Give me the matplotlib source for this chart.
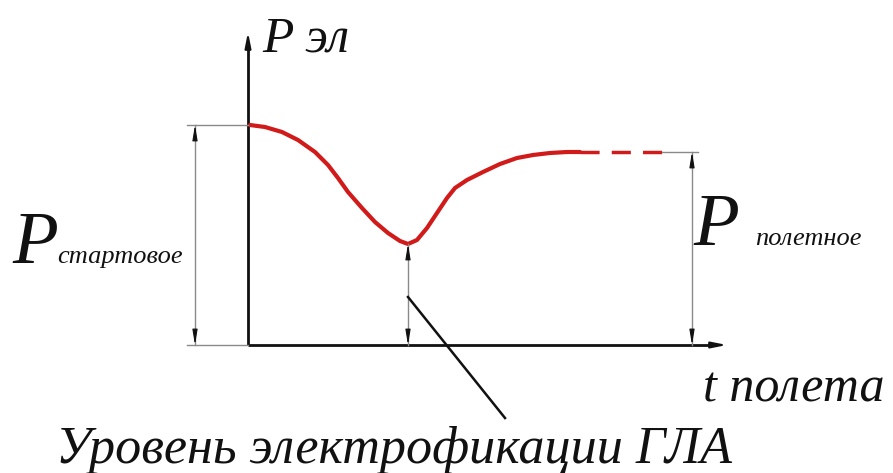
import matplotlib
matplotlib.use("Agg")
import matplotlib.pyplot as plt

# Schematic data (t from origin, P from origin; arbitrary units)
t_curve = [2, 17, 34, 50, 67, 80, 90, 100, 114, 127, 140, 152, 160, 169, 179, 189, 199, 207, 219, 235, 252, 269, 285, 302, 319, 332]
p_curve = [220, 218, 213, 205, 193, 180, 167, 153, 137, 123, 112, 104, 101, 105, 117, 132, 147, 157, 165, 173, 181, 187, 190, 192, 193, 193]
t_dash = [332, 414]
p_dash = [193, 193]
P_start = 220
P_min = 101
P_flight = 193
t_min = 160
t_flight = 444
t_axis_end = 479
P_axis_end = 313

W, H = 893, 473
ox, oy = 248, 345  # origin position in figure pixels

fig = plt.figure(figsize=(W / 100, H / 100), dpi=100)
ax = fig.add_axes([0, 0, 1, 1])
ax.set_xlim(-ox, W - ox)
ax.set_ylim(-(H - oy), oy)
ax.axis("off")

serif = ["Liberation Serif", "DejaVu Serif"]
black = "#111111"
gray = "#8a8a8a"
red = "#d11a1a"

# Axes with arrows
ax.plot([0, 0], [0, P_axis_end - 10], color=black, lw=2, solid_capstyle="butt")
ax.annotate("", xy=(0, P_axis_end), xytext=(0, P_axis_end - 14),
            arrowprops=dict(arrowstyle="-|>,head_length=0.9,head_width=0.18", color=black, lw=1.5,
                            shrinkA=0, shrinkB=0))
ax.plot([0, t_axis_end - 10], [0, 0], color=black, lw=2, solid_capstyle="butt")
ax.annotate("", xy=(t_axis_end, 0), xytext=(t_axis_end - 14, 0),
            arrowprops=dict(arrowstyle="-|>,head_length=0.9,head_width=0.18", color=black, lw=1.5,
                            shrinkA=0, shrinkB=0))

# Curve
ax.plot(t_curve, p_curve, color=red, lw=3, solid_capstyle="round", solid_joinstyle="round")
ax.plot(t_dash, p_dash, color=red, lw=2.5, dashes=(5.5, 3.5))


def dim_line(x, y0, y1):
    ax.plot([x, x], [y0, y1], color=gray, lw=1)
    for yt, yf in ((y1, y1 - 14), (y0, y0 + 14)):
        ax.annotate("", xy=(x, yt), xytext=(x, yf),
                    arrowprops=dict(arrowstyle="-|>,head_length=0.9,head_width=0.15",
                                    color=black, lw=0.8, shrinkA=0, shrinkB=0))


# Extension lines
ax.plot([-61, 0], [P_start, P_start], color=gray, lw=1)
ax.plot([-61, 0], [0, 0], color=gray, lw=1)
ax.plot([t_dash[1], t_flight + 6], [P_flight, P_flight], color=gray, lw=1)

# Dimension lines
dim_line(-53, 0, P_start)
dim_line(t_min, 0, P_min)
dim_line(t_flight, 0, P_flight)

# Leader line
ax.plot([t_min, 257], [48, -73], color=black, lw=1.8)

# Texts
ax.text(14, oy - 52, "P эл", family=serif, style="italic", fontsize=37, ha="left", va="baseline", color=black)
ax.text(-236, 82, "P", family=serif, style="italic", fontsize=54, ha="left", va="baseline", color=black)
ax.text(-191, 82, "стартовое", family=serif, style="italic", fontsize=19, ha="left", va="baseline", color=black)
ax.text(445, 100, "P", family=serif, style="italic", fontsize=54, ha="left", va="baseline", color=black)
ax.text(507, 100, "полетное", family=serif, style="italic", fontsize=19, ha="left", va="baseline", color=black)
ax.text(455, -56, "t полета", family=serif, style="italic", fontsize=36, ha="left", va="baseline", color=black)
ax.text(-192, -118, "Уровень электрофикации ГЛА", family=serif, style="italic", fontsize=37.5,
        ha="left", va="baseline", color=black)

fig.savefig("out.png", dpi=100)
